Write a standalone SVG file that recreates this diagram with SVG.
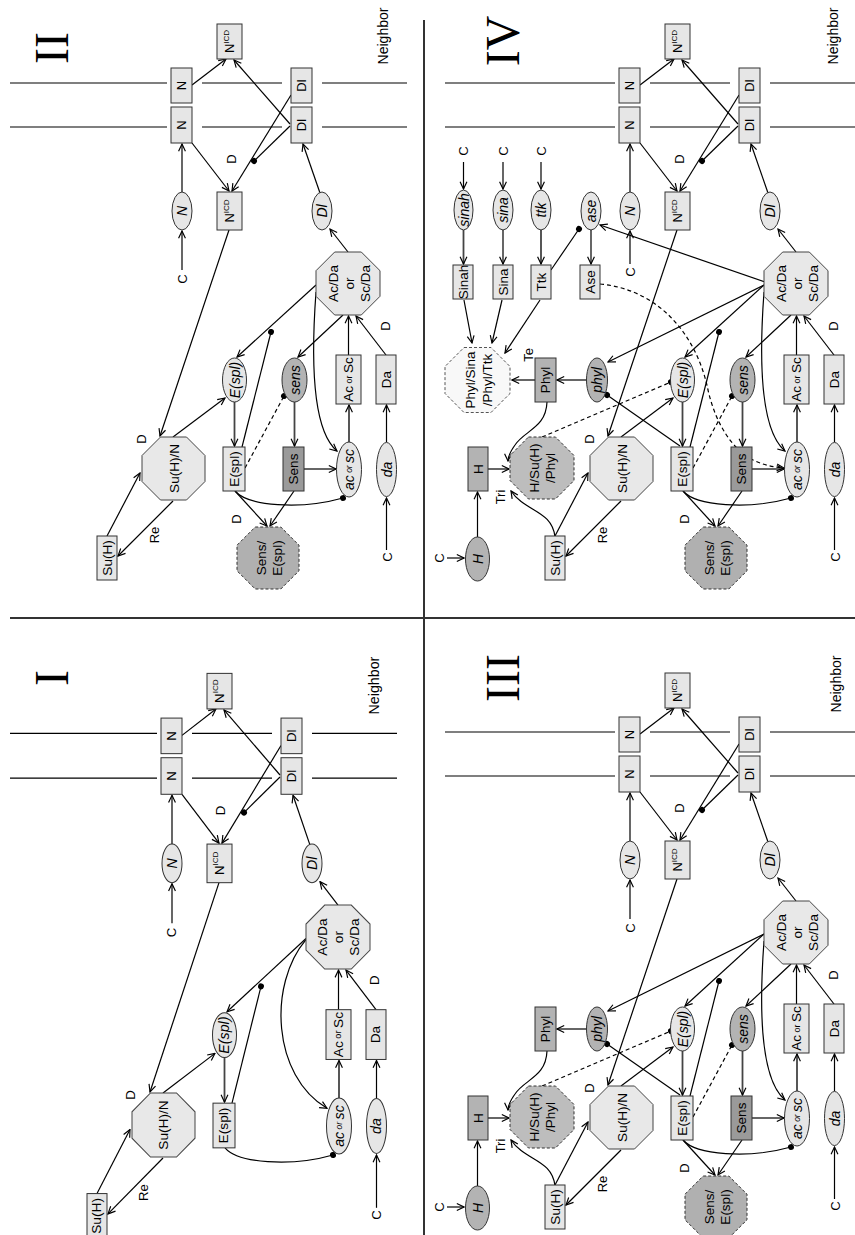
<svg xmlns="http://www.w3.org/2000/svg" width="855" height="1235" viewBox="0 0 855 1235">
<style>
text{font-family:"Liberation Sans",Arial,sans-serif;font-size:13.5px;text-anchor:middle;dominant-baseline:central;fill:#000}
.i{font-style:italic;font-size:14px}
.s{font-size:13px}
.nb{font-size:14px}
.rn{font-family:"Liberation Serif","Times New Roman",serif;font-size:48px;dominant-baseline:alphabetic}
.bx{fill:#e6e6e6;stroke:#333;stroke-width:1}
.g1{fill:#b3b3b3;stroke:#333;stroke-width:1}
.g2{fill:#9a9a9a;stroke:#333;stroke-width:1}
.oc{fill:#e8e8e8;stroke:#444;stroke-width:1}
.od{fill:#b0b0b0;stroke:#333;stroke-width:1;stroke-dasharray:3 2}
.ow{fill:#f8f8f8;stroke:#555;stroke-width:1;stroke-dasharray:3 2}
.e{fill:none;stroke:#000;stroke-width:1.2}
.t{stroke:#444;stroke-width:1.8}
.ar{marker-end:url(#a)}
.dt{marker-end:url(#d)}
.ds{stroke-dasharray:4 3}
.mem{fill:none;stroke:#000;stroke-width:1.2}
.div{fill:none;stroke:#333;stroke-width:2}
</style>
<defs>
<marker id="a" viewBox="0 0 10 10" refX="9" refY="5" markerWidth="9" markerHeight="9" markerUnits="userSpaceOnUse" orient="auto"><path d="M1,1.2 L9,5 L1,8.8" fill="none" stroke="#000" stroke-width="1.3"/></marker>
<marker id="d" viewBox="0 0 8 8" refX="4" refY="4" markerWidth="7" markerHeight="7" markerUnits="userSpaceOnUse" orient="auto"><circle cx="4" cy="4" r="3.4" fill="#000"/></marker>
</defs>
<rect width="855" height="1235" fill="#fff"/>
<g id="dividers">
<path class="div" d="M424,20V1235M10,618H855"/>
</g>
<g id="numerals">
<text class="rn" transform="translate(68,48) rotate(-90)">II</text>
<text class="rn" transform="translate(519,41) rotate(-90)">IV</text>
<text class="rn" transform="translate(68,678) rotate(-90)">I</text>
<text class="rn" transform="translate(519,678) rotate(-90)">III</text>
</g>

<!-- ================= PANEL II ================= -->
<g id="panel-II">
<path class="mem" d="M10,83H167M202,83H282M322,83H407M10,127H167M202,127H282M322,127H407"/>
<g id="p2-connectors">
<path class="e ar" d="M192,85L226,59"/>
<path class="e ar" d="M290,124L234,60"/>
<path class="e ar" d="M192,143L229,191"/>
<path class="e ar" d="M291,95L232,191"/>
<path class="e dt" d="M290,126L254,161"/>
<path class="e ar" d="M182,192L182,144"/>
<path class="e ar" d="M182,270L182,231"/>
<path class="e ar" d="M229,230L160,436"/>
<path class="e ar" d="M320,193L303,144"/>
<path class="e ar" d="M348,252L330,229"/>
<path class="e ar" d="M316,285L237,357"/>
<path class="e dt" d="M242,447L271,332"/>
<path class="e ar" d="M343,315L298,357"/>
<path class="e ar" d="M316,292C311,360 312,430 337,451"/>
<path class="e ar" d="M348.5,355L348.5,316"/>
<path class="e ar" d="M386,355L356,316"/>
<path class="e ar t" d="M349,442L349,405"/>
<path class="e ar" d="M386.5,442L386.5,405"/>
<path class="e ar" d="M386.5,550L386.5,498"/>
<path class="e ar" d="M173,437L225,398"/>
<path class="e ar" d="M107,536L140,473"/>
<path class="e ar" d="M173,501L118,556"/>
<path class="e ar t" d="M234.5,402L234.5,446"/>
<path class="e dt" d="M235,491C248,506 300,510 343,498"/>
<path class="e ar" d="M235,491L267,526"/>
<path class="e ar" d="M294,491L270,526"/>
<path class="e ar t" d="M294.5,402L294.5,446"/>
<path class="e ar" d="M304,469L336,469"/>
<path class="e dt ds" d="M245,468L284,396"/>
</g>
<g id="p2-N1"><rect class="bx" x="171" y="68" width="21" height="35"/><text class="s" transform="translate(181.5,85.5) rotate(-90)">N</text></g>
<g id="p2-N2"><rect class="bx" x="171" y="107" width="21" height="36"/><text class="s" transform="translate(181.5,125) rotate(-90)">N</text></g>
<g id="p2-Dl1"><rect class="bx" x="291" y="68" width="21" height="35"/><text class="s" transform="translate(301.5,85.5) rotate(-90)">Dl</text></g>
<g id="p2-Dl2"><rect class="bx" x="291" y="107" width="21" height="36"/><text class="s" transform="translate(301.5,125) rotate(-90)">Dl</text></g>
<g id="p2-NICD1"><rect class="bx" x="217" y="24" width="25" height="35"/><text class="s" transform="translate(229.5,41.5) rotate(-90)">N<tspan font-size="8" dy="-4">ICD</tspan></text></g>
<g id="p2-NICD2"><rect class="bx" x="217" y="192" width="25" height="38"/><text class="s" transform="translate(229.5,211) rotate(-90)">N<tspan font-size="8" dy="-4">ICD</tspan></text></g>
<g id="p2-Ngene"><ellipse class="bx" cx="182" cy="211" rx="10" ry="19"/><text class="i" transform="translate(182,211) rotate(-90)">N</text></g>
<g id="p2-Dlgene"><ellipse class="bx" cx="322" cy="211" rx="10" ry="19"/><text class="i" transform="translate(322,211) rotate(-90)">Dl</text></g>
<g id="p2-AcDa"><polygon class="oc" points="334.7,252 361.3,252 380,270.7 380,296.3 361.3,315 334.7,315 316,296.3 316,270.7"/><text transform="translate(333,283.5) rotate(-90)">Ac/Da</text><text transform="translate(349,283.5) rotate(-90)">or</text><text transform="translate(365,283.5) rotate(-90)">Sc/Da</text></g>
<g id="p2-Esplgene"><ellipse class="bx" cx="234.5" cy="380" rx="12" ry="22"/><text class="i" transform="translate(234.5,380) rotate(-90)">E(spl)</text></g>
<g id="p2-AcSc"><rect class="bx" x="336" y="355" width="25" height="49"/><text transform="translate(348.5,379.5) rotate(-90)">Ac<tspan font-size="9"> or </tspan>Sc</text></g>
<g id="p2-Da"><rect class="bx" x="376" y="355" width="20" height="49"/><text transform="translate(386,379.5) rotate(-90)">Da</text></g>
<g id="p2-acsc"><ellipse class="bx" cx="349" cy="469.5" rx="12.5" ry="27.5"/><text class="i" transform="translate(349,469.5) rotate(-90)">ac<tspan font-size="8.5"> or </tspan>sc</text></g>
<g id="p2-da"><ellipse class="bx" cx="386.5" cy="469.5" rx="10" ry="27"/><text class="i" transform="translate(386.5,469.5) rotate(-90)">da</text></g>
<g id="p2-SuHN"><polygon class="oc" points="160.5,437 186.5,437 205,455.5 205,481.5 186.5,500 160.5,500 142,481.5 142,455.5"/><text transform="translate(174,468.5) rotate(-90)">Su(H)/N</text></g>
<g id="p2-SuH"><rect class="bx" x="97" y="536" width="20" height="44"/><text transform="translate(107,558) rotate(-90)">Su(H)</text></g>
<g id="p2-Espl"><rect class="bx" x="223" y="447" width="22" height="44"/><text transform="translate(234,469) rotate(-90)">E(spl)</text></g>
<g id="p2-sensgene"><ellipse class="g1" cx="294.5" cy="380" rx="12.5" ry="22"/><text class="i" transform="translate(294.5,380) rotate(-90)">sens</text></g>
<g id="p2-Sens"><rect class="g2" x="283" y="447" width="21" height="44"/><text transform="translate(293.5,469) rotate(-90)">Sens</text></g>
<g id="p2-SensEspl"><polygon class="od" points="255.2,527 280.8,527 299,545.2 299,570.8 280.8,589 255.2,589 237,570.8 237,545.2"/><text transform="translate(261,558) rotate(-90)">Sens/</text><text transform="translate(277,558) rotate(-90)">E(spl)</text></g>
<g id="p2-labels">
<text class="nb" transform="translate(383,36) rotate(-90)">Neighbor</text>
<text class="s" transform="translate(182,279) rotate(-90)">C</text>
<text class="s" transform="translate(387,557) rotate(-90)">C</text>
<text class="s" transform="translate(231,159) rotate(-90)">D</text>
<text class="s" transform="translate(385,326) rotate(-90)">D</text>
<text class="s" transform="translate(141,439) rotate(-90)">D</text>
<text class="s" transform="translate(236,519) rotate(-90)">D</text>
<text class="s" transform="translate(154,535) rotate(-90)">Re</text>
</g>
</g>

<!-- ================= PANEL I ================= -->
<g id="panel-I" transform="translate(-10,649) scale(1,1.016)">
<path class="mem" d="M20,83H167M202,83H282M322,83H407M20,127H167M202,127H282M322,127H407"/>
<g id="p1-connectors">
<path class="e ar" d="M192,85L226,59"/>
<path class="e ar" d="M290,124L234,60"/>
<path class="e ar" d="M192,143L229,191"/>
<path class="e ar" d="M291,95L232,191"/>
<path class="e dt" d="M290,126L254,161"/>
<path class="e ar" d="M182,192L182,144"/>
<path class="e ar" d="M182,270L182,231"/>
<path class="e ar" d="M229,230L160,436"/>
<path class="e ar" d="M320,193L303,144"/>
<path class="e ar" d="M348,252L330,229"/>
<path class="e ar" d="M316,285L237,357"/>
<path class="e dt" d="M242,447L271,332"/>
<path class="e ar" d="M316,286C278,330 282,420 337,452"/>
<path class="e ar" d="M348.5,355L348.5,316"/>
<path class="e ar" d="M386,355L356,316"/>
<path class="e ar t" d="M349,442L349,405"/>
<path class="e ar" d="M386.5,442L386.5,405"/>
<path class="e ar" d="M386.5,550L386.5,498"/>
<path class="e ar" d="M173,437L225,398"/>
<path class="e ar" d="M107,536L140,473"/>
<path class="e ar" d="M173,501L118,556"/>
<path class="e ar t" d="M234.5,402L234.5,446"/>
<path class="e dt" d="M235,491C248,506 300,510 343,498"/>
</g>
<g id="p1-N1"><rect class="bx" x="171" y="68" width="21" height="35"/><text class="s" transform="translate(181.5,85.5) rotate(-90)">N</text></g>
<g id="p1-N2"><rect class="bx" x="171" y="107" width="21" height="36"/><text class="s" transform="translate(181.5,125) rotate(-90)">N</text></g>
<g id="p1-Dl1"><rect class="bx" x="291" y="68" width="21" height="35"/><text class="s" transform="translate(301.5,85.5) rotate(-90)">Dl</text></g>
<g id="p1-Dl2"><rect class="bx" x="291" y="107" width="21" height="36"/><text class="s" transform="translate(301.5,125) rotate(-90)">Dl</text></g>
<g id="p1-NICD1"><rect class="bx" x="217" y="24" width="25" height="35"/><text class="s" transform="translate(229.5,41.5) rotate(-90)">N<tspan font-size="8" dy="-4">ICD</tspan></text></g>
<g id="p1-NICD2"><rect class="bx" x="217" y="192" width="25" height="38"/><text class="s" transform="translate(229.5,211) rotate(-90)">N<tspan font-size="8" dy="-4">ICD</tspan></text></g>
<g id="p1-Ngene"><ellipse class="bx" cx="182" cy="211" rx="10" ry="19"/><text class="i" transform="translate(182,211) rotate(-90)">N</text></g>
<g id="p1-Dlgene"><ellipse class="bx" cx="322" cy="211" rx="10" ry="19"/><text class="i" transform="translate(322,211) rotate(-90)">Dl</text></g>
<g id="p1-AcDa"><polygon class="oc" points="334.7,252 361.3,252 380,270.7 380,296.3 361.3,315 334.7,315 316,296.3 316,270.7"/><text transform="translate(333,283.5) rotate(-90)">Ac/Da</text><text transform="translate(349,283.5) rotate(-90)">or</text><text transform="translate(365,283.5) rotate(-90)">Sc/Da</text></g>
<g id="p1-Esplgene"><ellipse class="bx" cx="234.5" cy="380" rx="12" ry="22"/><text class="i" transform="translate(234.5,380) rotate(-90)">E(spl)</text></g>
<g id="p1-AcSc"><rect class="bx" x="336" y="355" width="25" height="49"/><text transform="translate(348.5,379.5) rotate(-90)">Ac<tspan font-size="9"> or </tspan>Sc</text></g>
<g id="p1-Da"><rect class="bx" x="376" y="355" width="20" height="49"/><text transform="translate(386,379.5) rotate(-90)">Da</text></g>
<g id="p1-acsc"><ellipse class="bx" cx="349" cy="469.5" rx="12.5" ry="27.5"/><text class="i" transform="translate(349,469.5) rotate(-90)">ac<tspan font-size="8.5"> or </tspan>sc</text></g>
<g id="p1-da"><ellipse class="bx" cx="386.5" cy="469.5" rx="10" ry="27"/><text class="i" transform="translate(386.5,469.5) rotate(-90)">da</text></g>
<g id="p1-SuHN"><polygon class="oc" points="160.5,437 186.5,437 205,455.5 205,481.5 186.5,500 160.5,500 142,481.5 142,455.5"/><text transform="translate(174,468.5) rotate(-90)">Su(H)/N</text></g>
<g id="p1-SuH"><rect class="bx" x="97" y="536" width="20" height="44"/><text transform="translate(107,558) rotate(-90)">Su(H)</text></g>
<g id="p1-Espl"><rect class="bx" x="223" y="447" width="22" height="44"/><text transform="translate(234,469) rotate(-90)">E(spl)</text></g>
<g id="p1-labels">
<text class="nb" transform="translate(384,36) rotate(-90)">Neighbor</text>
<text class="s" transform="translate(182,279) rotate(-90)">C</text>
<text class="s" transform="translate(387,557) rotate(-90)">C</text>
<text class="s" transform="translate(231,159) rotate(-90)">D</text>
<text class="s" transform="translate(385,326) rotate(-90)">D</text>
<text class="s" transform="translate(141,439) rotate(-90)">D</text>
<text class="s" transform="translate(154,535) rotate(-90)">Re</text>
</g>
</g>

<!-- ================= PANEL III ================= -->
<g id="panel-III" transform="translate(448,649)">
<path class="mem" d="M-3,83H167M202,83H282M322,83H407M-3,127H167M202,127H282M322,127H407"/>
<g id="p3-connectors">
<path class="e ar" d="M192,85L226,59"/>
<path class="e ar" d="M290,124L234,60"/>
<path class="e ar" d="M192,143L229,191"/>
<path class="e ar" d="M291,95L232,191"/>
<path class="e dt" d="M290,126L254,161"/>
<path class="e ar" d="M182,192L182,144"/>
<path class="e ar" d="M182,270L182,231"/>
<path class="e ar" d="M229,230L160,436"/>
<path class="e ar" d="M320,193L303,144"/>
<path class="e ar" d="M348,252L330,229"/>
<path class="e ar" d="M316,285L237,357"/>
<path class="e dt" d="M242,447L271,332"/>
<path class="e ar" d="M343,315L298,357"/>
<path class="e ar" d="M316,292C311,360 312,430 337,451"/>
<path class="e ar" d="M348.5,355L348.5,316"/>
<path class="e ar" d="M386,355L356,316"/>
<path class="e ar t" d="M349,442L349,405"/>
<path class="e ar" d="M386.5,442L386.5,405"/>
<path class="e ar" d="M386.5,550L386.5,498"/>
<path class="e ar" d="M173,437L225,398"/>
<path class="e ar" d="M107,536L140,473"/>
<path class="e ar" d="M173,501L118,556"/>
<path class="e ar t" d="M234.5,402L234.5,446"/>
<path class="e dt" d="M235,491C248,506 300,510 343,498"/>
<path class="e ar" d="M235,491L267,526"/>
<path class="e ar" d="M294,491L270,526"/>
<path class="e ar t" d="M294.5,402L294.5,446"/>
<path class="e ar" d="M304,469L336,469"/>
<path class="e dt ds" d="M245,468L284,396"/>
<path class="e ar" d="M316,285L160,362"/>
<path class="e dt" d="M232,446L159,395"/>
<path class="e ar" d="M138.5,380L109,380"/>
<path class="e ar" d="M99,402C98,428 77,430 67,445C62,452 60,456 60,461"/>
<path class="e ar" d="M107,537C104,510 77,512 63,491"/>
<path class="e ar" d="M40,469L61,469"/>
<path class="e ar" d="M29.5,537L29.5,492"/>
<path class="e ar" d="M-1,558L16,558"/>
<path class="e dt ds" d="M94,437L223,382"/>
</g>
<g id="p3-N1"><rect class="bx" x="171" y="68" width="21" height="35"/><text class="s" transform="translate(181.5,85.5) rotate(-90)">N</text></g>
<g id="p3-N2"><rect class="bx" x="171" y="107" width="21" height="36"/><text class="s" transform="translate(181.5,125) rotate(-90)">N</text></g>
<g id="p3-Dl1"><rect class="bx" x="291" y="68" width="21" height="35"/><text class="s" transform="translate(301.5,85.5) rotate(-90)">Dl</text></g>
<g id="p3-Dl2"><rect class="bx" x="291" y="107" width="21" height="36"/><text class="s" transform="translate(301.5,125) rotate(-90)">Dl</text></g>
<g id="p3-NICD1"><rect class="bx" x="217" y="24" width="25" height="35"/><text class="s" transform="translate(229.5,41.5) rotate(-90)">N<tspan font-size="8" dy="-4">ICD</tspan></text></g>
<g id="p3-NICD2"><rect class="bx" x="217" y="192" width="25" height="38"/><text class="s" transform="translate(229.5,211) rotate(-90)">N<tspan font-size="8" dy="-4">ICD</tspan></text></g>
<g id="p3-Ngene"><ellipse class="bx" cx="182" cy="211" rx="10" ry="19"/><text class="i" transform="translate(182,211) rotate(-90)">N</text></g>
<g id="p3-Dlgene"><ellipse class="bx" cx="322" cy="211" rx="10" ry="19"/><text class="i" transform="translate(322,211) rotate(-90)">Dl</text></g>
<g id="p3-AcDa"><polygon class="oc" points="334.7,252 361.3,252 380,270.7 380,296.3 361.3,315 334.7,315 316,296.3 316,270.7"/><text transform="translate(333,283.5) rotate(-90)">Ac/Da</text><text transform="translate(349,283.5) rotate(-90)">or</text><text transform="translate(365,283.5) rotate(-90)">Sc/Da</text></g>
<g id="p3-Esplgene"><ellipse class="bx" cx="234.5" cy="380" rx="12" ry="22"/><text class="i" transform="translate(234.5,380) rotate(-90)">E(spl)</text></g>
<g id="p3-AcSc"><rect class="bx" x="336" y="355" width="25" height="49"/><text transform="translate(348.5,379.5) rotate(-90)">Ac<tspan font-size="9"> or </tspan>Sc</text></g>
<g id="p3-Da"><rect class="bx" x="376" y="355" width="20" height="49"/><text transform="translate(386,379.5) rotate(-90)">Da</text></g>
<g id="p3-acsc"><ellipse class="bx" cx="349" cy="469.5" rx="12.5" ry="27.5"/><text class="i" transform="translate(349,469.5) rotate(-90)">ac<tspan font-size="8.5"> or </tspan>sc</text></g>
<g id="p3-da"><ellipse class="bx" cx="386.5" cy="469.5" rx="10" ry="27"/><text class="i" transform="translate(386.5,469.5) rotate(-90)">da</text></g>
<g id="p3-SuHN"><polygon class="oc" points="160.5,437 186.5,437 205,455.5 205,481.5 186.5,500 160.5,500 142,481.5 142,455.5"/><text transform="translate(174,468.5) rotate(-90)">Su(H)/N</text></g>
<g id="p3-SuH"><rect class="bx" x="97" y="536" width="20" height="44"/><text transform="translate(107,558) rotate(-90)">Su(H)</text></g>
<g id="p3-Espl"><rect class="bx" x="223" y="447" width="22" height="44"/><text transform="translate(234,469) rotate(-90)">E(spl)</text></g>
<g id="p3-sensgene"><ellipse class="g1" cx="294.5" cy="380" rx="12.5" ry="22"/><text class="i" transform="translate(294.5,380) rotate(-90)">sens</text></g>
<g id="p3-Sens"><rect class="g2" x="283" y="447" width="21" height="44"/><text transform="translate(293.5,469) rotate(-90)">Sens</text></g>
<g id="p3-SensEspl"><polygon class="od" points="255.2,527 280.8,527 299,545.2 299,570.8 280.8,589 255.2,589 237,570.8 237,545.2"/><text transform="translate(261,558) rotate(-90)">Sens/</text><text transform="translate(277,558) rotate(-90)">E(spl)</text></g>
<g id="p3-phylgene"><ellipse class="g1" cx="149" cy="380" rx="10.5" ry="22"/><text class="i" transform="translate(149,380) rotate(-90)">phyl</text></g>
<g id="p3-Phyl"><rect class="g1" x="87" y="358" width="21" height="44"/><text transform="translate(97.5,380) rotate(-90)">Phyl</text></g>
<g id="p3-HSuHPhyl"><polygon class="od" points="80.5,437 107.5,437 126,455.5 126,480.5 107.5,499 80.5,499 62,480.5 62,455.5" style="fill:#bdbdbd"/><text transform="translate(86,468) rotate(-90)">H/Su(H)</text><text transform="translate(102,468) rotate(-90)">/Phyl</text></g>
<g id="p3-H"><rect class="g1" x="20" y="447" width="20" height="44"/><text transform="translate(30,469) rotate(-90)">H</text></g>
<g id="p3-Hgene"><ellipse class="g1" cx="29.5" cy="559" rx="12" ry="22"/><text class="i" transform="translate(29.5,559) rotate(-90)">H</text></g>
<g id="p3-labels">
<text class="nb" transform="translate(388,35) rotate(-90)">Neighbor</text>
<text class="s" transform="translate(182,279) rotate(-90)">C</text>
<text class="s" transform="translate(387,557) rotate(-90)">C</text>
<text class="s" transform="translate(231,159) rotate(-90)">D</text>
<text class="s" transform="translate(385,326) rotate(-90)">D</text>
<text class="s" transform="translate(141,439) rotate(-90)">D</text>
<text class="s" transform="translate(236,519) rotate(-90)">D</text>
<text class="s" transform="translate(154,535) rotate(-90)">Re</text>
<text class="s" transform="translate(-9,558) rotate(-90)">C</text>
<text class="s" transform="translate(52,497) rotate(-90)">Tri</text>
</g>
</g>

<!-- ================= PANEL IV ================= -->
<g id="panel-IV" transform="translate(448,0)">
<path class="mem" d="M-3,83H167M202,83H282M322,83H407M-3,127H167M202,127H282M322,127H407"/>
<g id="p4-connectors">
<path class="e ar" d="M192,85L226,59"/>
<path class="e ar" d="M290,124L234,60"/>
<path class="e ar" d="M192,143L229,191"/>
<path class="e ar" d="M291,95L232,191"/>
<path class="e dt" d="M290,126L254,161"/>
<path class="e ar" d="M182,192L182,144"/>
<path class="e ar" d="M182,264L182,231"/>
<path class="e ar" d="M229,230L160,436"/>
<path class="e ar" d="M320,193L303,144"/>
<path class="e ar" d="M348,252L330,229"/>
<path class="e ar" d="M316,285L237,357"/>
<path class="e dt" d="M242,447L271,332"/>
<path class="e ar" d="M343,315L298,357"/>
<path class="e ar" d="M316,292C311,360 312,430 337,451"/>
<path class="e ar" d="M348.5,355L348.5,316"/>
<path class="e ar" d="M386,355L356,316"/>
<path class="e ar t" d="M349,442L349,405"/>
<path class="e ar" d="M386.5,442L386.5,405"/>
<path class="e ar" d="M386.5,550L386.5,498"/>
<path class="e ar" d="M173,437L225,398"/>
<path class="e ar" d="M107,536L140,473"/>
<path class="e ar" d="M173,501L118,556"/>
<path class="e ar t" d="M234.5,402L234.5,446"/>
<path class="e dt" d="M235,491C248,506 300,510 343,498"/>
<path class="e ar" d="M235,491L267,526"/>
<path class="e ar" d="M294,491L270,526"/>
<path class="e ar t" d="M294.5,402L294.5,446"/>
<path class="e ar" d="M304,469L336,469"/>
<path class="e dt ds" d="M245,468L284,396"/>
<path class="e ar" d="M316,285L160,362"/>
<path class="e dt" d="M232,446L159,395"/>
<path class="e ar" d="M138.5,380L109,380"/>
<path class="e ar" d="M99,402C98,428 77,430 67,445C62,452 60,456 60,461"/>
<path class="e ar" d="M107,537C104,510 77,512 63,491"/>
<path class="e ar" d="M40,469L61,469"/>
<path class="e ar" d="M29.5,537L29.5,492"/>
<path class="e ar" d="M-1,558L16,558"/>
<path class="e dt ds" d="M94,437L223,382"/>
<path class="e ar" d="M15.5,162L15.5,189"/>
<path class="e ar" d="M55,162L55,189"/>
<path class="e ar" d="M93,162L93,189"/>
<path class="e ar t" d="M15.5,230L15.5,264"/>
<path class="e ar" d="M55,230L55,264"/>
<path class="e ar t" d="M93,230L93,264"/>
<path class="e ar" d="M143,230L143,264"/>
<path class="e dt" d="M103,270L131,229"/>
<path class="e ar" d="M317,282L152,225"/>
<path class="e ar" d="M16,300L24,343"/>
<path class="e ar" d="M54,300L44,343"/>
<path class="e ar" d="M92,300L57,353"/>
<path class="e ar" d="M87,380L64,380"/>
<path class="e ar ds" d="M152,284C215,290 250,340 260,390C268,425 285,450 305,460C315,465 325,467 336,468"/>
</g>
<g id="p4-N1"><rect class="bx" x="171" y="68" width="21" height="35"/><text class="s" transform="translate(181.5,85.5) rotate(-90)">N</text></g>
<g id="p4-N2"><rect class="bx" x="171" y="107" width="21" height="36"/><text class="s" transform="translate(181.5,125) rotate(-90)">N</text></g>
<g id="p4-Dl1"><rect class="bx" x="291" y="68" width="21" height="35"/><text class="s" transform="translate(301.5,85.5) rotate(-90)">Dl</text></g>
<g id="p4-Dl2"><rect class="bx" x="291" y="107" width="21" height="36"/><text class="s" transform="translate(301.5,125) rotate(-90)">Dl</text></g>
<g id="p4-NICD1"><rect class="bx" x="217" y="24" width="25" height="35"/><text class="s" transform="translate(229.5,41.5) rotate(-90)">N<tspan font-size="8" dy="-4">ICD</tspan></text></g>
<g id="p4-NICD2"><rect class="bx" x="217" y="192" width="25" height="38"/><text class="s" transform="translate(229.5,211) rotate(-90)">N<tspan font-size="8" dy="-4">ICD</tspan></text></g>
<g id="p4-Ngene"><ellipse class="bx" cx="182" cy="211" rx="10" ry="19"/><text class="i" transform="translate(182,211) rotate(-90)">N</text></g>
<g id="p4-Dlgene"><ellipse class="bx" cx="322" cy="211" rx="10" ry="19"/><text class="i" transform="translate(322,211) rotate(-90)">Dl</text></g>
<g id="p4-AcDa"><polygon class="oc" points="334.7,252 361.3,252 380,270.7 380,296.3 361.3,315 334.7,315 316,296.3 316,270.7"/><text transform="translate(333,283.5) rotate(-90)">Ac/Da</text><text transform="translate(349,283.5) rotate(-90)">or</text><text transform="translate(365,283.5) rotate(-90)">Sc/Da</text></g>
<g id="p4-Esplgene"><ellipse class="bx" cx="234.5" cy="380" rx="12" ry="22"/><text class="i" transform="translate(234.5,380) rotate(-90)">E(spl)</text></g>
<g id="p4-AcSc"><rect class="bx" x="336" y="355" width="25" height="49"/><text transform="translate(348.5,379.5) rotate(-90)">Ac<tspan font-size="9"> or </tspan>Sc</text></g>
<g id="p4-Da"><rect class="bx" x="376" y="355" width="20" height="49"/><text transform="translate(386,379.5) rotate(-90)">Da</text></g>
<g id="p4-acsc"><ellipse class="bx" cx="349" cy="469.5" rx="12.5" ry="27.5"/><text class="i" transform="translate(349,469.5) rotate(-90)">ac<tspan font-size="8.5"> or </tspan>sc</text></g>
<g id="p4-da"><ellipse class="bx" cx="386.5" cy="469.5" rx="10" ry="27"/><text class="i" transform="translate(386.5,469.5) rotate(-90)">da</text></g>
<g id="p4-SuHN"><polygon class="oc" points="160.5,437 186.5,437 205,455.5 205,481.5 186.5,500 160.5,500 142,481.5 142,455.5"/><text transform="translate(174,468.5) rotate(-90)">Su(H)/N</text></g>
<g id="p4-SuH"><rect class="bx" x="97" y="536" width="20" height="44"/><text transform="translate(107,558) rotate(-90)">Su(H)</text></g>
<g id="p4-Espl"><rect class="bx" x="223" y="447" width="22" height="44"/><text transform="translate(234,469) rotate(-90)">E(spl)</text></g>
<g id="p4-sensgene"><ellipse class="g1" cx="294.5" cy="380" rx="12.5" ry="22"/><text class="i" transform="translate(294.5,380) rotate(-90)">sens</text></g>
<g id="p4-Sens"><rect class="g2" x="283" y="447" width="21" height="44"/><text transform="translate(293.5,469) rotate(-90)">Sens</text></g>
<g id="p4-SensEspl"><polygon class="od" points="255.2,527 280.8,527 299,545.2 299,570.8 280.8,589 255.2,589 237,570.8 237,545.2"/><text transform="translate(261,558) rotate(-90)">Sens/</text><text transform="translate(277,558) rotate(-90)">E(spl)</text></g>
<g id="p4-phylgene"><ellipse class="g1" cx="149" cy="380" rx="10.5" ry="22"/><text class="i" transform="translate(149,380) rotate(-90)">phyl</text></g>
<g id="p4-Phyl"><rect class="g1" x="87" y="358" width="21" height="44"/><text transform="translate(97.5,380) rotate(-90)">Phyl</text></g>
<g id="p4-HSuHPhyl"><polygon class="od" points="80.5,437 107.5,437 126,455.5 126,480.5 107.5,499 80.5,499 62,480.5 62,455.5" style="fill:#bdbdbd"/><text transform="translate(86,468) rotate(-90)">H/Su(H)</text><text transform="translate(102,468) rotate(-90)">/Phyl</text></g>
<g id="p4-H"><rect class="g1" x="20" y="447" width="20" height="44"/><text transform="translate(30,469) rotate(-90)">H</text></g>
<g id="p4-Hgene"><ellipse class="g1" cx="29.5" cy="559" rx="12" ry="22"/><text class="i" transform="translate(29.5,559) rotate(-90)">H</text></g>
<g id="p4-sinahgene"><ellipse class="bx" cx="15.5" cy="210" rx="9.5" ry="20"/><text class="i" transform="translate(15.5,210) rotate(-90)">sinah</text></g>
<g id="p4-sinagene"><ellipse class="bx" cx="55" cy="210" rx="10" ry="20"/><text class="i" transform="translate(55,210) rotate(-90)">sina</text></g>
<g id="p4-ttkgene"><ellipse class="bx" cx="93" cy="210" rx="10" ry="20"/><text class="i" transform="translate(93,210) rotate(-90)">ttk</text></g>
<g id="p4-asegene"><ellipse class="bx" cx="143" cy="211" rx="10" ry="19"/><text class="i" transform="translate(143,211) rotate(-90)">ase</text></g>
<g id="p4-Sinah"><rect class="bx" x="5" y="265" width="20" height="34"/><text transform="translate(15,282) rotate(-90)">Sinah</text></g>
<g id="p4-Sina"><rect class="bx" x="45" y="265" width="20" height="34"/><text transform="translate(55,282) rotate(-90)">Sina</text></g>
<g id="p4-Ttk"><rect class="bx" x="83" y="265" width="20" height="34"/><text transform="translate(93,282) rotate(-90)">Ttk</text></g>
<g id="p4-Ase"><rect class="bx" x="132" y="265" width="20" height="34"/><text transform="translate(142,282) rotate(-90)">Ase</text></g>
<g id="p4-PhylSinaTtk"><polygon class="ow" points="16,347.5 43,347.5 62,366.5 62,393.5 43,412.5 16,412.5 -3,393.5 -3,366.5"/><text transform="translate(22,380) rotate(-90)">Phyl/Sina</text><text transform="translate(39,380) rotate(-90)">/Phyl/Ttk</text></g>
<g id="p4-labels">
<text class="nb" transform="translate(385,36) rotate(-90)">Neighbor</text>
<text class="s" transform="translate(182,272) rotate(-90)">C</text>
<text class="s" transform="translate(387,557) rotate(-90)">C</text>
<text class="s" transform="translate(231,159) rotate(-90)">D</text>
<text class="s" transform="translate(385,326) rotate(-90)">D</text>
<text class="s" transform="translate(141,439) rotate(-90)">D</text>
<text class="s" transform="translate(236,519) rotate(-90)">D</text>
<text class="s" transform="translate(154,535) rotate(-90)">Re</text>
<text class="s" transform="translate(-9,558) rotate(-90)">C</text>
<text class="s" transform="translate(52,497) rotate(-90)">Tri</text>
<text class="s" transform="translate(80,355) rotate(-90)">Te</text>
<text class="s" transform="translate(15.5,151) rotate(-90)">C</text>
<text class="s" transform="translate(55,151) rotate(-90)">C</text>
<text class="s" transform="translate(93,151) rotate(-90)">C</text>
</g>
</g>
</svg>
